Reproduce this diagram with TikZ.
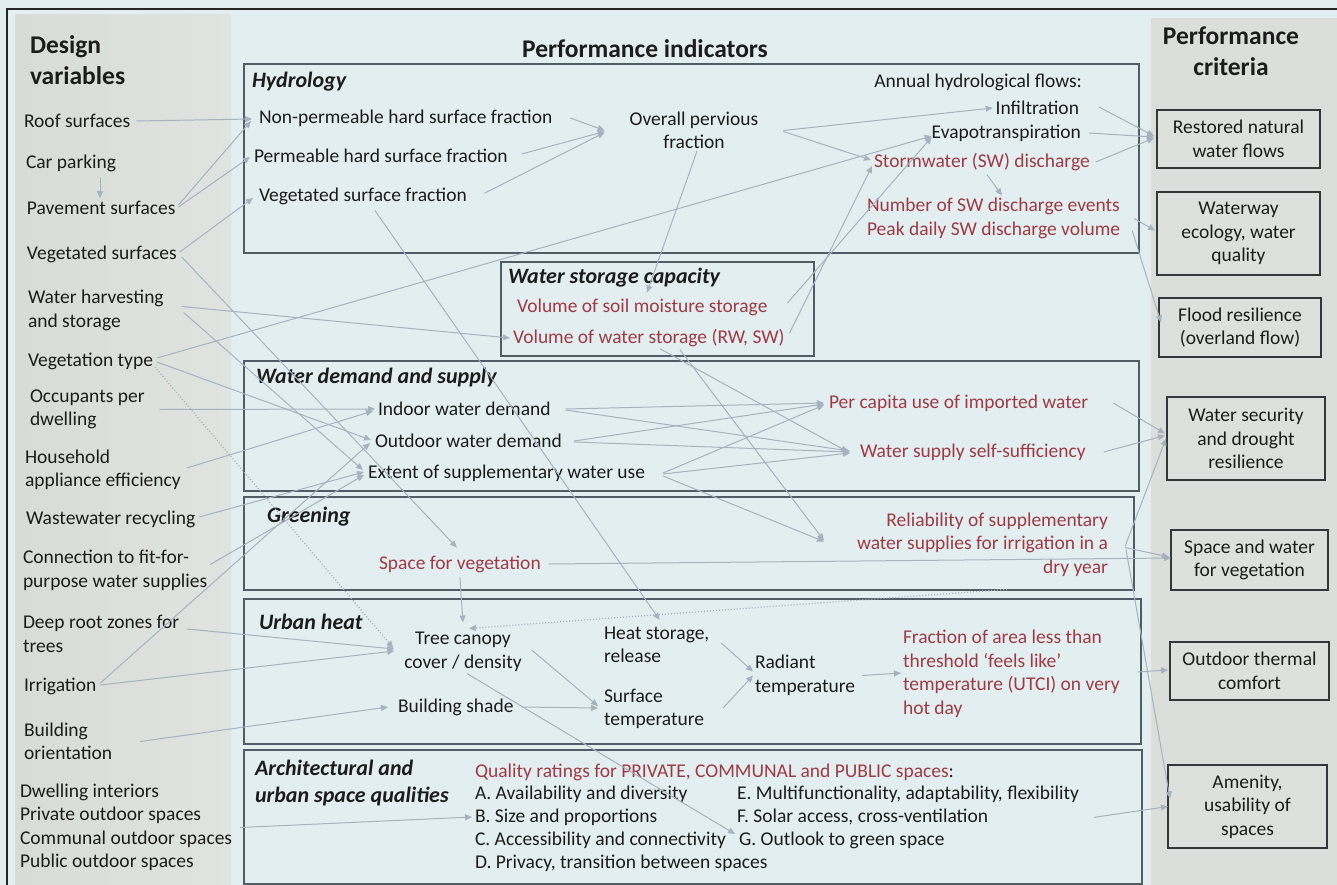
\documentclass[tikz,border=0pt]{standalone}
\usepackage{fontspec}
\setmainfont{Carlito}
\usetikzlibrary{arrows.meta,calc}
\definecolor{bgc}{RGB}{227,238,241}
\definecolor{panelL}{RGB}{216,219,215}
\definecolor{panelLR}{RGB}{224,228,225}
\definecolor{panelR}{RGB}{219,222,219}
\definecolor{critfill}{RGB}{221,224,220}
\definecolor{boxc}{RGB}{82,92,102}
\definecolor{cbord}{RGB}{52,55,58}
\definecolor{txt}{RGB}{28,28,28}
\definecolor{redc}{RGB}{158,58,68}
\definecolor{lnc}{RGB}{166,178,190}
\newcommand\nsz{\fontsize{19.5}{23.5}\selectfont}
\newcommand\hsz{\fontsize{25.5}{31}\selectfont\bfseries}
\newcommand\tsz{\fontsize{22}{27}\selectfont\bfseries\itshape}
\begin{document}
\begin{tikzpicture}[x=1pt,y=-1pt,
  every node/.style={inner sep=0pt, outer sep=0pt, text=txt, font=\nsz},
  lab/.style={anchor=west, align=left},
  rtxt/.style={text=redc},
  ttl/.style={anchor=west, align=left, font=\tsz},
  hdr/.style={font=\hsz},
  grp/.style={draw=boxc, line width=1.5pt},
  crit/.style={draw=cbord, fill=critfill, line width=1.4pt, align=center},
  conn/.style={draw=lnc, line width=1pt, -{Triangle[length=7pt,width=6pt]}},
  dotconn/.style={conn, dotted, line width=1.3pt},
]
\useasboundingbox (0,0) rectangle (1337,885);
% backgrounds
\fill[bgc] (0,0) rectangle (1337,885);
\shade[left color=panelL, right color=panelLR] (15,15) rectangle (231,885);
\fill[panelR] (1151,18) rectangle (1337,885);
\draw[black!85, line width=1.2pt] (7,885) -- (7,9) -- (1337,9);
% group boxes
\draw[grp] (244,64) rectangle (1139,253);
\draw[grp] (501,262) rectangle (814,356);
\draw[grp] (244,361) rectangle (1139,491);
\draw[grp] (244,497) rectangle (1134,590);
\draw[grp] (244,599) rectangle (1141,744);
\draw[grp] (244,750) rectangle (1142,884);

% headers
\node[hdr, lab] (hdv) at (30,60.5) {Design\\variables};
\node[hdr] (hpi) at (645,49) {Performance indicators};
\node[hdr, align=center] (hpc) at (1231,51) {Performance\\criteria};

% design variables
\node[lab] (roof) at (24,121) {Roof surfaces};
\node[lab] (carpark) at (26,163) {Car parking};
\node[lab] (pavement) at (27,208) {Pavement surfaces};
\node[lab] (vegsurf) at (27,254) {Vegetated surfaces};
\node[lab] (harvest) at (28,310.5) {Water harvesting\\and storage};
\node[lab] (vegtype) at (28,361) {Vegetation type};
\node[lab] (occup) at (30,409.5) {Occupants per\\dwelling};
\node[lab] (house) at (25,470) {Household\\appliance efficiency};
\node[lab] (waste) at (26,519) {Wastewater recycling};
\node[lab] (connect) at (23,570.5) {Connection to fit-for-\\purpose water supplies};
\node[lab] (deeproot) at (23,634) {Deep root zones for\\trees};
\node[lab] (irrig) at (24,686) {Irrigation};
\node[lab] (orient) at (24,741.5) {Building\\orientation};
\node[lab] (spaces) at (20,827.5) {Dwelling interiors\\Private outdoor spaces\\Communal outdoor spaces\\Public outdoor spaces};

% hydrology
\node[ttl] (thyd) at (252,82) {Hydrology};
\node[lab] (nonperm) at (259,118) {Non-permeable hard surface fraction};
\node[lab] (perm) at (254,156) {Permeable hard surface fraction};
\node[lab] (vegfrac) at (259,196) {Vegetated surface fraction};
\node[align=center] (overall) at (694,130.5) {Overall pervious\\fraction};
\node[anchor=east] (annual) at (1082,82) {Annual hydrological flows:};
\node[anchor=east] (infil) at (1079,108) {Infiltration};
\node[anchor=east] (evapo) at (1081,133) {Evapotranspiration};
\node[lab, rtxt] (storm) at (874,162) {Stormwater (SW) discharge};
\node[lab, rtxt] (events) at (867,218.5) {Number of SW discharge events\\Peak daily SW discharge volume};

% water storage
\node[ttl] (twsc) at (508,278) {Water storage capacity};
\node[lab, rtxt] (soil) at (517,307) {Volume of soil moisture storage};
\node[lab, rtxt] (wstor) at (513,338) {Volume of water storage (RW, SW)};

% water demand
\node[ttl] (twds) at (256,378) {Water demand and supply};
\node[lab] (indoor) at (378,409) {Indoor water demand};
\node[lab] (outdoor) at (375,441) {Outdoor water demand};
\node[lab] (extent) at (368,473) {Extent of supplementary water use};
\node[lab, rtxt] (percap) at (829,403) {Per capita use of imported water};
\node[lab, rtxt] (selfsuf) at (860,452) {Water supply self-sufficiency};

% greening
\node[ttl] (tgreen) at (267,517) {Greening};
\node[lab, rtxt] (spveg) at (379,564) {Space for vegetation};
\node[rtxt, anchor=east, align=right] (relia) at (1108,544.5) {Reliability of supplementary\\water supplies for irrigation in a\\dry year};

% urban heat
\node[ttl] (theat) at (259,622) {Urban heat};
\node[align=center] (canopy) at (463,652) {Tree canopy\\cover / density};
\node[lab] (heatst) at (604,645) {Heat storage,\\release};
\node[lab] (bshade) at (398,707) {Building shade};
\node[lab] (surft) at (604,709) {Surface\\temperature};
\node[lab] (radiant) at (755,675.5) {Radiant\\temperature};
\node[lab, rtxt] (frac) at (903,674) {Fraction of area less than\\threshold ‘feels like’\\temperature (UTCI) on very\\hot day};

% architectural
\node[ttl] (tarch) at (255,783.5) {Architectural and\\urban space qualities};
\node[lab] (qual) at (475,772) {{\color{redc}Quality ratings for PRIVATE, COMMUNAL and PUBLIC spaces}:};
\node[lab] (qa) at (475,794) {A. Availability and diversity};
\node[lab] (qb) at (475,817) {B. Size and proportions};
\node[lab] (qc) at (475,840) {C. Accessibility and connectivity};
\node[lab] (qd) at (475,863) {D. Privacy, transition between spaces};
\node[lab] (qe) at (737,794) {E. Multifunctionality, adaptability, flexibility};
\node[lab] (qf) at (737,817) {F. Solar access, cross-ventilation};
\node[lab] (qg) at (739,840) {G. Outlook to green space};

% performance criteria
\node[crit, minimum width=163pt, minimum height=58pt] (crest) at (1238.5,139) {Restored natural\\water flows};
\node[crit, minimum width=163pt, minimum height=83pt] (cwater) at (1238.5,233.5) {Waterway\\ecology, water\\quality};
\node[crit, minimum width=162pt, minimum height=59pt] (cflood) at (1240,327.5) {Flood resilience\\(overland flow)};
\node[crit, minimum width=158pt, minimum height=83pt] (csec) at (1246,438.5) {Water security\\and drought\\resilience};
\node[crit, minimum width=157pt, minimum height=60pt] (cspace) at (1249.5,560) {Space and water\\for vegetation};
\node[crit, minimum width=159pt, minimum height=58pt] (cthermal) at (1249.5,671) {Outdoor thermal\\comfort};
\node[crit, minimum width=159pt, minimum height=83pt] (camen) at (1247.5,806.5) {Amenity,\\usability of\\spaces};

% ---- connectors: design variables -> indicators
\draw[conn] ($(roof.east)+(6,0)$) -- ($(nonperm.west)+(-7,1)$);
\draw[conn] ($(carpark.south west)+(74,6)$) -- ($(pavement.north west)+(73,-3)$);
\draw[conn] ($(pavement.east)+(3,-3)$) -- ($(nonperm.west)+(-8,3)$);
\draw[conn] ($(pavement.east)+(3,-1)$) -- ($(perm.west)+(-4,1)$);
\draw[conn] ($(vegsurf.east)+(3,-2)$) -- ($(vegfrac.west)+(-6,2)$);
\draw[conn] ($(vegsurf.east)+(5,3)$) -- ($(spveg.north)+(-3,-8)$);
\draw[conn] ($(harvest.east)+(18,-4)$) -- ($(wstor.west)+(-3,0)$);
\draw[conn] ($(harvest.east)+(20,2)$) -- ($(extent.west)+(-5,-3)$);
\draw[conn] ($(vegtype.east)+(4,-3)$) -- ($(evapo.west)+(0,3)$);
\draw[conn] ($(vegtype.east)+(4,1)$) -- ($(outdoor.west)+(-4,-1)$);
\draw[dotconn] ($(vegtype.east)+(2,6)$) -- ($(canopy.west)+(-11,-4)$);
\draw[conn] ($(occup.east)+(15,0)$) -- ($(indoor.west)+(-3,0)$);
\draw[conn] ($(house.east)+(6,-2)$) -- ($(indoor.west)+(-5,2)$);
\draw[conn] ($(waste.east)+(4,-2)$) -- ($(extent.west)+(-4,-1)$);
\draw[conn] ($(connect.east)+(3,-6)$) -- ($(extent.west)+(-4,2)$);
\draw[conn] ($(deeproot.east)+(8,-5)$) -- ($(canopy.west)+(-10,-3)$);
\draw[conn] ($(irrig.east)+(4,-1)$) -- ($(canopy.west)+(-10,-1)$);
\draw[conn] ($(irrig.east)+(4,-3)$) -- ($(outdoor.west)+(-5,2)$);
\draw[conn] ($(orient.east)+(28,0)$) -- ($(bshade.west)+(-10,0)$);
\draw[conn] ($(spaces.east)+(8,0)$) -- ($(qb.west)+(-3,0)$);

% ---- within indicators
\draw[conn] ($(nonperm.east)+(18,0)$) -- ($(overall.west)+(-25,0)$);
\draw[conn] ($(perm.east)+(14,-2)$) -- ($(overall.west)+(-25,1)$);
\draw[conn] ($(vegfrac.east)+(18,-3)$) -- ($(overall.west)+(-25,2)$);
\draw[conn] ($(vegfrac.south)+(12,6)$) -- ($(heatst.north)+(3,-7)$);
\draw[conn] ($(overall.south)+(3,2)$) -- ($(soil.north west)+(130,-6)$);
\draw[conn] ($(overall.east)+(25,0)$) -- ($(infil.west)+(-3,0)$);
\draw[conn] ($(overall.east)+(25,1)$) -- ($(storm.west)+(-3,-2)$);
\draw[conn] ($(storm.south west)+(113,4)$) -- ($(events.north west)+(135,-3)$);
\draw[conn] ($(soil.east)+(20,-4)$) -- ($(evapo.west)+(0,4)$);
\draw[conn] ($(wstor.east)+(5,-5)$) -- ($(storm.west)+(-2,4)$);
\draw[conn] ($(wstor.south west)+(147,2)$) -- ($(selfsuf.west)+(-12,0)$);
\draw[conn] ($(wstor.south west)+(167,3)$) -- ($(relia.west)+(-33,-4)$);
\draw[conn] ($(indoor.east)+(15,0)$) -- ($(percap.west)+(-5,0)$);
\draw[conn] ($(indoor.east)+(15,1)$) -- ($(selfsuf.west)+(-10,-1)$);
\draw[conn] ($(outdoor.east)+(12,0)$) -- ($(percap.west)+(-5,1)$);
\draw[conn] ($(outdoor.east)+(12,1)$) -- ($(selfsuf.west)+(-10,0)$);
\draw[conn] ($(extent.east)+(18,0)$) -- ($(percap.west)+(-5,2)$);
\draw[conn] ($(extent.east)+(18,1)$) -- ($(selfsuf.west)+(-10,1)$);
\draw[conn] ($(extent.east)+(18,3)$) -- ($(relia.west)+(-33,-3)$);
\draw[conn] ($(spveg.south)+(0,5)$) -- ($(canopy.north)+(0,-10)$);
\draw[conn] ($(spveg.east)+(8,0)$) -- ($(cspace.west)+(0,-2)$);
\draw[dotconn] ($(relia.south west)+(150,13)$) -- ($(canopy.north)+(6,-4)$);
\draw[conn] ($(canopy.east)+(10,-2)$) -- ($(surft.west)+(-6,-3)$);
\draw[conn] ($(canopy.south)+(4,2)$) -- ($(qg.west)+(-4,-6)$);
\draw[conn] ($(bshade.east)+(8,0)$) -- ($(surft.west)+(-6,-1)$);
\draw[conn] ($(heatst.east)+(12,-2)$) -- ($(radiant.west)+(-2,-4)$);
\draw[conn] ($(surft.east)+(19,-1)$) -- ($(radiant.west)+(-2,0)$);
\draw[conn] ($(radiant.east)+(7,0)$) -- ($(frac.west)+(-2,-1)$);

% ---- indicators -> criteria
\draw[conn] ($(infil.east)+(20,-1)$) -- ($(crest.west)+(-3,-3)$);
\draw[conn] ($(evapo.east)+(8,0)$) -- ($(crest.west)+(-3,-2)$);
\draw[conn] ($(storm.east)+(6,0)$) -- ($(crest.west)+(-3,-1)$);
\draw[conn] ($(events.east)+(14,0)$) -- ($(cwater.west)+(-2,-3)$);
\draw[conn] ($(events.east)+(12,12)$) -- ($(cflood.west)+(2,-5)$);
\draw[conn] ($(percap.east)+(25,0)$) -- ($(csec.west)+(-2,-5)$);
\draw[conn] ($(selfsuf.east)+(18,0)$) -- ($(csec.west)+(-2,-3)$);
\draw[conn] ($(relia.east)+(17,2)$) -- ($(csec.west)+(-1,0)$);
\draw[conn] ($(relia.east)+(17,3)$) -- ($(cspace.west)+(-2,-3)$);
\draw[conn] ($(relia.east)+(18,5)$) -- ($(camen.west)+(2,-8)$);
\draw[conn] ($(frac.east)+(18,-2)$) -- ($(cthermal.west)+(-2,-1)$);
\draw[conn] ($(qe.south east)+(15,15)$) -- ($(camen.west)+(0,0)$);
\end{tikzpicture}
\end{document}
